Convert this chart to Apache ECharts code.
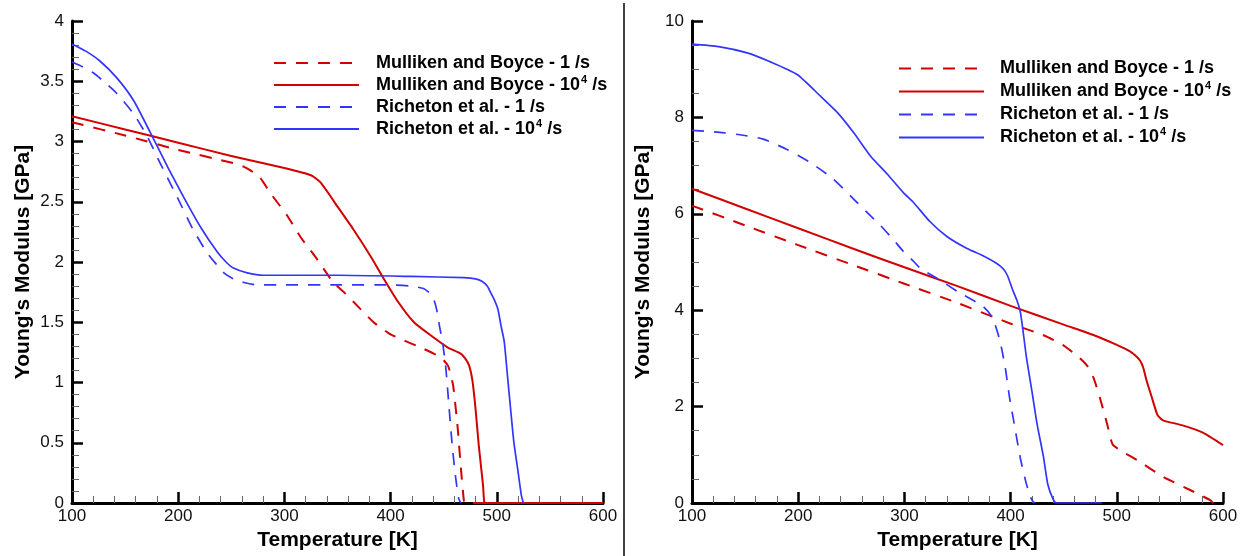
<!DOCTYPE html>
<html>
<head>
<meta charset="utf-8">
<script src="https://cdn.jsdelivr.net/npm/echarts@6/dist/echarts.min.js"></script>
<style>
  html, body { margin: 0; padding: 0; background: #fff; }
  #chart { width: 1247px; height: 556px; }
</style>
</head>
<body>
<div id="chart"></div>
<script>
// Series names (the "^4" marks a superscript exponent in the legend)
const seriesNames = [
  'Mulliken and Boyce - 1 /s',
  'Mulliken and Boyce - 10^4 /s',
  'Richeton et al. - 1 /s',
  'Richeton et al. - 10^4 /s'
];

// Axis settings
const xTicks = { min: 100, max: 600, interval: 100 };
const yTicksLeft = { min: 0, max: 4, interval: 0.5 };
const yTicksRight = { min: 0, max: 10, interval: 2 };

// Left panel: [temperature K, modulus GPa]
const mb1Left = [
  [100,3.16],[150,3.05],[200,2.93],[252,2.82],[262,2.79],[268,2.76],[277,2.70],
  [287,2.57],[303,2.38],[315,2.21],[331,2.02],[346,1.83],[356,1.75],[365,1.67],
  [384,1.50],[398,1.41],[407,1.37],[431,1.28],[447,1.21],[454,1.14],[457,1.05],
  [459,0.97],[463,0.64],[466,0.31],[469,0.02],[470,0],[600,0]
];
const mb4Left = [
  [100,3.21],[150,3.10],[200,2.99],[250,2.88],[300,2.78],[325,2.72],[334,2.66],
  [350,2.46],[365,2.27],[381,2.05],[393,1.87],[407,1.67],[422,1.50],[438,1.39],
  [454,1.29],[466,1.24],[471,1.19],[474,1.14],[477,1.02],[480,0.78],[483,0.48],
  [487,0.15],[488,0.02],[489,0],[600,0]
];
const ri1Left = [
  [100,3.66],[110,3.62],[120,3.57],[131,3.49],[142,3.40],[158,3.23],[171,3.04],
  [183,2.82],[199,2.54],[214,2.27],[227,2.08],[236,1.98],[243,1.91],[252,1.86],
  [262,1.83],[274,1.81],[300,1.81],[350,1.81],[400,1.81],[419,1.80],[431,1.78],
  [437,1.74],[441,1.68],[444,1.58],[446,1.47],[449,1.33],[452,1.12],[455,0.80],
  [458,0.48],[461,0.23],[464,0.04],[466,0]
];
const ri4Left = [
  [100,3.81],[113,3.75],[126,3.67],[142,3.53],[158,3.34],[174,3.07],[190,2.79],
  [205,2.54],[221,2.29],[237,2.08],[245,2.00],[252,1.95],[265,1.91],[280,1.89],
  [350,1.89],[420,1.88],[469,1.87],[480,1.86],[486,1.84],[491,1.80],[494,1.75],
  [498,1.68],[501,1.61],[504,1.47],[507,1.34],[510,1.06],[513,0.78],[516,0.51],
  [520,0.26],[523,0.07],[525,0]
];

// Right panel: [temperature K, modulus GPa]
const mb1Right = [
  [100,6.17],[150,5.76],[200,5.35],[250,4.95],[300,4.55],[350,4.15],[399,3.73],
  [431,3.48],[449,3.28],[465,3.01],[472,2.85],[478,2.60],[484,2.19],[491,1.63],
  [496,1.22],[505,1.07],[519,0.89],[544,0.54],[569,0.27],[588,0.06],[591,0],[600,0]
];
const mb4Right = [
  [100,6.52],[150,6.11],[200,5.70],[250,5.29],[300,4.89],[350,4.50],[400,4.09],
  [450,3.70],[481,3.46],[500,3.28],[512,3.15],[518,3.05],[522,2.95],[525,2.80],
  [528,2.54],[533,2.19],[538,1.84],[541,1.76],[544,1.71],[562,1.61],[581,1.46],
  [600,1.20]
];
const ri1Right = [
  [100,7.73],[126,7.69],[148,7.63],[167,7.55],[189,7.34],[211,7.07],[233,6.72],
  [252,6.31],[268,5.96],[277,5.77],[289,5.48],[299,5.22],[308,5.03],[315,4.87],
  [331,4.66],[352,4.36],[374,4.08],[383,3.84],[390,3.36],[395,2.80],[399,2.19],
  [404,1.57],[409,0.95],[414,0.47],[418,0.16],[421,0.03],[423,0]
];
const ri4Right = [
  [100,9.52],[125,9.47],[152,9.34],[173,9.16],[199,8.89],[221,8.44],[237,8.10],
  [252,7.69],[268,7.20],[284,6.82],[299,6.44],[308,6.25],[324,5.84],[340,5.53],
  [359,5.28],[374,5.13],[387,4.97],[393,4.86],[397,4.72],[402,4.42],[406,4.20],
  [409,3.98],[411,3.69],[415,3.01],[420,2.33],[425,1.63],[431,0.95],[435,0.39],
  [440,0.08],[443,0],[486,0]
];

const RED = '#d20000';
const BLUE = '#3434ff';
const FONT = '"Liberation Sans", Arial, sans-serif';

const styles = [
  { color: RED, width: 2, type: [12, 10] },
  { color: RED, width: 2, type: 'solid' },
  { color: BLUE, width: 1.7, type: [12, 10] },
  { color: BLUE, width: 1.7, type: 'solid' }
];

function makeSeries(idx, data, panel) {
  const s = styles[idx];
  return {
    name: seriesNames[idx],
    type: 'line',
    xAxisIndex: panel,
    yAxisIndex: panel,
    data: data,
    symbol: 'none',
    showSymbol: false,
    smooth: 0.2,
    animation: false,
    silent: true,
    lineStyle: { color: s.color, width: s.width, type: s.type },
    itemStyle: { color: s.color }
  };
}

function makeXAxis(grid) {
  return {
    type: 'value',
    gridIndex: grid,
    min: xTicks.min, max: xTicks.max, interval: xTicks.interval,
    name: 'Temperature [K]',
    nameLocation: 'middle',
    nameGap: 27,
    nameTextStyle: { fontSize: 21, fontWeight: 'bold', color: '#000', fontFamily: FONT },
    axisLine: { show: true, lineStyle: { color: '#000', width: 3 } },
    axisTick: { show: true, inside: true, length: 11, lineStyle: { color: '#000', width: 2.5 } },
    minorTick: { show: true, splitNumber: 5, length: 7, lineStyle: { color: '#666', width: 1 } },
    splitLine: { show: false },
    axisLabel: { fontSize: 17, color: '#111', fontFamily: FONT, margin: 5 }
  };
}

function makeYAxis(grid, t, minorSplit) {
  return {
    type: 'value',
    gridIndex: grid,
    min: t.min, max: t.max, interval: t.interval,
    name: "Young's Modulus [GPa]",
    nameLocation: 'middle',
    nameGap: 38,
    nameTextStyle: { fontSize: 21, fontWeight: 'bold', color: '#000', fontFamily: FONT },
    axisLine: { show: true, lineStyle: { color: '#000', width: 3 } },
    axisTick: { show: true, inside: true, length: 11, lineStyle: { color: '#000', width: 2.5 } },
    minorTick: { show: true, splitNumber: minorSplit, length: 7, lineStyle: { color: '#666', width: 1 } },
    splitLine: { show: false },
    axisLabel: { fontSize: 17, color: '#111', fontFamily: FONT, margin: 8 }
  };
}

function makeLegend(left, top, rowHeight, textPad) {
  return {
    orient: 'vertical',
    left: left,
    top: top,
    padding: 0,
    itemGap: 0,
    itemWidth: 85,
    itemHeight: 14,
    selectedMode: false,
    data: seriesNames,
    // line-only keys: hide the marker drawn on top of the line sample
    itemStyle: { opacity: 0 },
    formatter: function (name) {
      return name.replace('^4', '{sup|4}');
    },
    textStyle: {
      fontSize: 18,
      fontWeight: 'bold',
      color: '#000',
      fontFamily: FONT,
      lineHeight: rowHeight,
      padding: [0, 0, 0, textPad],
      rich: {
        sup: {
          fontSize: 11,
          fontWeight: 'bold',
          color: '#000',
          fontFamily: FONT,
          lineHeight: 12,
          verticalAlign: 'top',
          padding: [0, 0, 0, 1]
        }
      }
    }
  };
}

const chart = echarts.init(document.getElementById('chart'), null, { renderer: 'canvas' });

chart.setOption({
  backgroundColor: '#fff',
  animation: false,
  grid: [
    { left: 72, top: 21, width: 531, height: 484 },
    { left: 692, top: 21, width: 531, height: 485 }
  ],
  xAxis: [makeXAxis(0), makeXAxis(1)],
  yAxis: [makeYAxis(0, yTicksLeft, 5), makeYAxis(1, yTicksRight, 4)],
  legend: [
    makeLegend(273, 52, 22, 12),
    makeLegend(898, 57, 23, 11)
  ],
  graphic: [
    {
      type: 'line',
      shape: { x1: 624, y1: 3, x2: 624, y2: 556 },
      style: { stroke: '#000', lineWidth: 1.5 },
      silent: true
    }
  ],
  series: [
    makeSeries(0, mb1Left, 0),
    makeSeries(1, mb4Left, 0),
    makeSeries(2, ri1Left, 0),
    makeSeries(3, ri4Left, 0),
    makeSeries(0, mb1Right, 1),
    makeSeries(1, mb4Right, 1),
    makeSeries(2, ri1Right, 1),
    makeSeries(3, ri4Right, 1)
  ]
});
</script>
</body>
</html>
